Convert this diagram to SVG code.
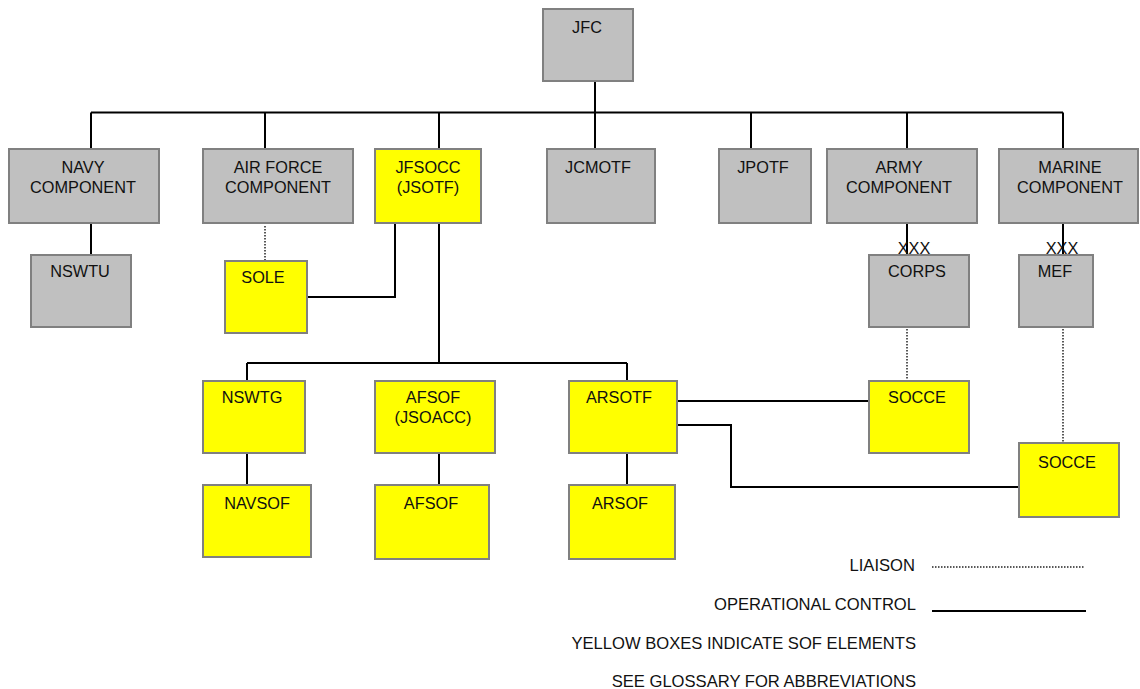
<svg xmlns="http://www.w3.org/2000/svg" width="1140" height="689" viewBox="0 0 1140 689">
<style>
.g{fill:#c0c0c0;stroke:#808080;stroke-width:2}
.y{fill:#ffff00;stroke:#808080;stroke-width:2}
text{font-family:"Liberation Sans",Arial,sans-serif;font-size:16.3px;fill:#111;text-anchor:middle}
.l{text-anchor:end;font-size:16.6px}
.s{fill:none;stroke:#000;stroke-width:2}
.d{fill:none;stroke:#222;stroke-width:1.5;stroke-dasharray:1.5 1.5}
</style>
<rect width="1140" height="689" fill="#fff"/>
<g id="connectors">
<path class="s" d="M595 81V112.5M91 112.5H1063M91 112.5V149M265 112.5V149M439 112.5V149M595 112.5V149M751 112.5V149M907 112.5V149M1063 112.5V149"/>
<path class="s" d="M91 223V255M395 223V297H307M439 223V363M247 363H627M247 363V381M627 363V381"/>
<path class="s" d="M247 453V485M439 453V485M627 453V485M677 401H869M677 425H731V487H1019"/>
<path class="s" d="M907 223V254M1063 223V254"/>
<path class="d" d="M265 226V260M907 329V380M1063 329V442"/>
</g>
<g id="JFC"><rect class="g" x="543" y="9" width="90" height="72"/><text x="587" y="33">JFC</text></g>
<g id="NAVY"><rect class="g" x="9" y="149" width="150" height="74"/><text x="83" y="173">NAVY</text><text x="83" y="193">COMPONENT</text></g>
<g id="AIRFORCE"><rect class="g" x="203" y="149" width="150" height="74"/><text x="278" y="173">AIR FORCE</text><text x="278" y="193">COMPONENT</text></g>
<g id="JFSOCC"><rect class="y" x="375" y="149" width="106" height="74"/><text x="428" y="173">JFSOCC</text><text x="428" y="193">(JSOTF)</text></g>
<g id="JCMOTF"><rect class="g" x="547" y="149" width="108" height="74"/><text x="598" y="173">JCMOTF</text></g>
<g id="JPOTF"><rect class="g" x="719" y="149" width="92" height="74"/><text x="763" y="173">JPOTF</text></g>
<g id="ARMY"><rect class="g" x="827" y="149" width="150" height="74"/><text x="899" y="173">ARMY</text><text x="899" y="193">COMPONENT</text></g>
<g id="MARINE"><rect class="g" x="999" y="149" width="139" height="74"/><text x="1070" y="173">MARINE</text><text x="1070" y="193">COMPONENT</text></g>
<g id="NSWTU"><rect class="g" x="31" y="255" width="100" height="72"/><text x="80" y="277">NSWTU</text></g>
<g id="SOLE"><rect class="y" x="225" y="261" width="82" height="72"/><text x="263" y="283">SOLE</text></g>
<g id="CORPS"><rect class="g" x="869" y="255" width="100" height="72"/><text x="917" y="277">CORPS</text><text x="914" y="254">XXX</text></g>
<g id="MEF"><rect class="g" x="1019" y="255" width="74" height="72"/><text x="1055" y="277">MEF</text><text x="1062" y="254">XXX</text></g>
<g id="NSWTG"><rect class="y" x="203" y="381" width="102" height="72"/><text x="252" y="403">NSWTG</text></g>
<g id="AFSOF_JSOACC"><rect class="y" x="375" y="381" width="120" height="72"/><text x="433" y="403">AFSOF</text><text x="433" y="423">(JSOACC)</text></g>
<g id="ARSOTF"><rect class="y" x="569" y="381" width="108" height="72"/><text x="619" y="403">ARSOTF</text></g>
<g id="NAVSOF"><rect class="y" x="203" y="485" width="108" height="72"/><text x="257" y="509">NAVSOF</text></g>
<g id="AFSOF"><rect class="y" x="375" y="485" width="114" height="74"/><text x="431" y="509">AFSOF</text></g>
<g id="ARSOF"><rect class="y" x="569" y="485" width="106" height="74"/><text x="620" y="509">ARSOF</text></g>
<g id="SOCCE1"><rect class="y" x="869" y="381" width="100" height="72"/><text x="917" y="403">SOCCE</text></g>
<g id="SOCCE2"><rect class="y" x="1019" y="443" width="100" height="74"/><text x="1067" y="468">SOCCE</text></g>
<g id="legend">
<text class="l" x="915" y="571">LIAISON</text>
<path class="d" d="M932 567H1084"/>
<text class="l" x="916" y="610">OPERATIONAL CONTROL</text>
<path class="s" d="M932 611H1086"/>
<text class="l" x="916" y="649">YELLOW BOXES INDICATE SOF ELEMENTS</text>
<text class="l" x="916" y="687">SEE GLOSSARY FOR ABBREVIATIONS</text>
</g>
</svg>
